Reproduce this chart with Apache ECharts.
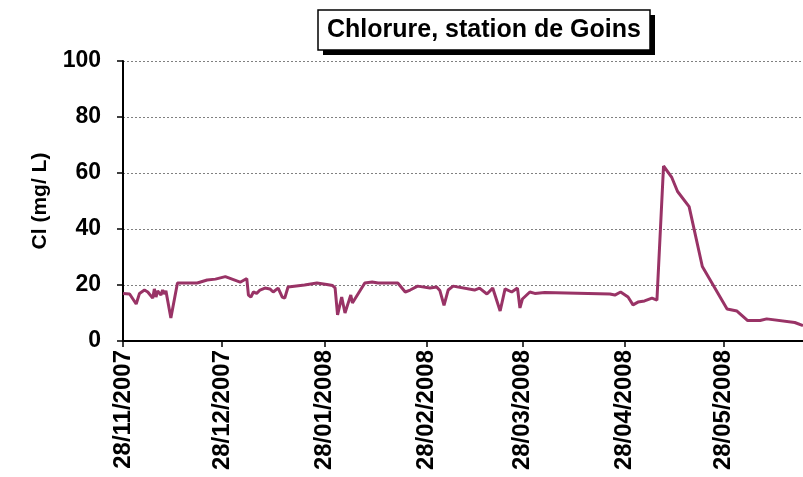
<!DOCTYPE html>
<html>
<head>
<meta charset="utf-8">
<script src="https://cdn.jsdelivr.net/npm/echarts@6/dist/echarts.min.js"></script>
<style>
  html, body { margin: 0; padding: 0; background: #fff; }
  #chart { width: 803px; height: 477px; }
</style>
</head>
<body>
<div id="chart"></div>
<script>
  // dates of the samples (Goins station)
  var dates = [
    '2007-11-28', '2007-11-30', '2007-12-02', '2007-12-03', '2007-12-04 12:00', '2007-12-05 12:00',
    '2007-12-07', '2007-12-07 12:00', '2007-12-08', '2007-12-08 12:00', '2007-12-09 12:00', '2007-12-10',
    '2007-12-10 12:00', '2007-12-11', '2007-12-12 12:00', '2007-12-14 12:00', '2007-12-20 12:00',
    '2007-12-23 12:00', '2007-12-26', '2007-12-29', '2008-01-02 12:00', '2008-01-04 12:00', '2008-01-05',
    '2008-01-05 18:00', '2008-01-06 12:00', '2008-01-07 12:00', '2008-01-08 12:00', '2008-01-10',
    '2008-01-11 12:00', '2008-01-12 12:00', '2008-01-14', '2008-01-15 06:00', '2008-01-16', '2008-01-17',
    '2008-01-22', '2008-01-25 18:00', '2008-01-28 18:00', '2008-01-30 12:00', '2008-01-31 06:00',
    '2008-01-31 18:00', '2008-02-01', '2008-02-02 06:00', '2008-02-03 06:00', '2008-02-04 12:00',
    '2008-02-05', '2008-02-05 12:00', '2008-02-09 06:00', '2008-02-11 12:00', '2008-02-13 06:00',
    '2008-02-19 06:00', '2008-02-21 12:00', '2008-02-23', '2008-02-25 06:00', '2008-02-29', '2008-03-02',
    '2008-03-03', '2008-03-04 06:00', '2008-03-05 12:00', '2008-03-07', '2008-03-13 12:00', '2008-03-15',
    '2008-03-17 06:00', '2008-03-19', '2008-03-21 06:00', '2008-03-22 18:00', '2008-03-24 18:00',
    '2008-03-26 12:00', '2008-03-27 06:00', '2008-03-28', '2008-03-30 06:00', '2008-03-31 18:00',
    '2008-04-03 18:00', '2008-04-23 12:00', '2008-04-25', '2008-04-26 18:00', '2008-04-29',
    '2008-04-30 12:00', '2008-05-02', '2008-05-04', '2008-05-06 06:00', '2008-05-07 18:00',
    '2008-05-09 18:00', '2008-05-12 06:00', '2008-05-14', '2008-05-17 12:00', '2008-05-21 12:00',
    '2008-05-29', '2008-06-01', '2008-06-04 06:00', '2008-06-08', '2008-06-10', '2008-06-18 12:00',
    '2008-06-21'
  ];
  // chloride, mg/L
  var chlorure = [
    17, 16.8, 13.2, 17, 18.2, 17.5,
    15.3, 18.6, 15.7, 17.9, 16.4, 18.2,
    16.8, 17.9, 8.2, 20.7, 20.7,
    21.8, 22.1, 23, 21, 22.3, 16.4,
    15.7, 17.5, 17, 18.2, 18.9,
    18.6, 17.5, 18.9, 15.7, 15.3, 19.3,
    20, 20.7, 20.2, 19.8, 19,
    19.3, 9.3, 15.7, 10, 14.6,
    16.4, 13.6, 20.7, 21.1, 20.7,
    20.7, 17.5, 18.2, 19.6, 18.9, 19.3,
    18, 12.7, 18.2, 19.6, 18.2, 18.9,
    16.8, 18.9, 10.7, 18.6, 17.5,
    18.9, 11.8, 15, 17.5, 17,
    17.3, 16.8, 16.4, 17.5, 15.7,
    12.9, 13.9, 14.3, 15.3, 14.6,
    62.5, 58.4, 53.4, 48, 26.6,
    11.4, 10.7, 7.3, 7.3, 7.9, 6.6,
    5.5
  ];
  // x tick positions / labels
  var tickDates = ['2007-11-28', '2007-12-28', '2008-01-28', '2008-02-28', '2008-03-28', '2008-04-28', '2008-05-28'];
  var xMin = '2007-11-28';
  var xMax = '2008-06-21';

  function ts(s) {
    var p = s.split(' ');
    var d = p[0].split('-');
    var h = p[1] ? +p[1].split(':')[0] : 0;
    return Date.UTC(+d[0], +d[1] - 1, +d[2], h);
  }
  function pad(n) { return n < 10 ? '0' + n : '' + n; }

  var seriesData = [];
  for (var i = 0; i < dates.length; i++) {
    seriesData.push([ts(dates[i]), chlorure[i]]);
  }
  var tickValues = tickDates.map(ts);

  var myChart = echarts.init(document.getElementById('chart'));
  var font = 'Liberation Sans, Arial, sans-serif';
  var option = {
    animation: false,
    // title box with its hard shadow
    graphic: [
      { type: 'rect', z: 0, shape: { x: 323, y: 15, width: 332, height: 40 }, style: { fill: '#000' } },
      { type: 'rect', z: 1, shape: { x: 318, y: 10, width: 332, height: 40 }, style: { fill: '#fff', stroke: '#000', lineWidth: 1.5 } }
    ],
    title: {
      text: 'Chlorure, station de Goins',
      left: 484,
      top: 15,
      textAlign: 'center',
      padding: 0,
      z: 10,
      textStyle: { fontFamily: font, fontWeight: 'bold', fontSize: 25, lineHeight: 30, color: '#000' }
    },
    grid: { left: 123, right: 0, top: 61, bottom: 136, containLabel: false },
    xAxis: {
      type: 'value',
      min: ts(xMin),
      max: ts(xMax),
      axisLine: { lineStyle: { color: '#000', width: 2 } },
      axisTick: { show: true, length: 6, customValues: tickValues, lineStyle: { color: '#000', width: 1.5 } },
      axisLabel: {
        customValues: tickValues,
        rotate: 90,
        margin: 9,
        fontFamily: font,
        fontWeight: 'bold',
        fontSize: 24,
        color: '#000',
        formatter: function (v) {
          var d = new Date(v);
          return pad(d.getUTCDate()) + '/' + pad(d.getUTCMonth() + 1) + '/' + d.getUTCFullYear();
        }
      },
      splitLine: { show: false }
    },
    yAxis: {
      type: 'value',
      min: 0,
      max: 100,
      interval: 20,
      name: 'Cl (mg/ L)',
      nameLocation: 'middle',
      nameGap: 72,
      nameTextStyle: { fontFamily: font, fontWeight: 'bold', fontSize: 21, color: '#000' },
      axisLine: { show: true, lineStyle: { color: '#000', width: 2 } },
      axisTick: { show: true, length: 6, lineStyle: { color: '#000', width: 1.5 } },
      axisLabel: { margin: 22, fontFamily: font, fontWeight: 'bold', fontSize: 23, color: '#000' },
      splitLine: { show: true, lineStyle: { color: '#808080', width: 1, type: [2, 2] } }
    },
    series: [{
      type: 'line',
      data: seriesData,
      showSymbol: false,
      symbol: 'none',
      lineStyle: { color: '#993366', width: 3 },
      clip: true
    }]
  };
  myChart.setOption(option);
</script>
</body>
</html>
